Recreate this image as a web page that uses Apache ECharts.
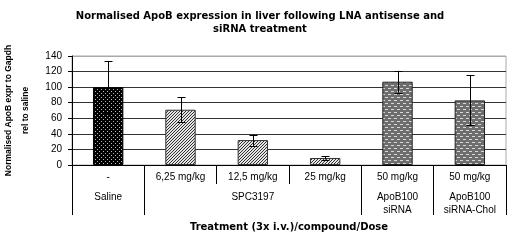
<!DOCTYPE html>
<html>
<head>
<meta charset="utf-8">
<script src="https://cdn.jsdelivr.net/npm/echarts@6/dist/echarts.min.js"></script>
<style>
  html, body { margin: 0; padding: 0; background: #fff; }
  #chart { width: 520px; height: 250px; }
</style>
</head>
<body>
<div id="chart"></div>
<script>
// doses (first table row) and treatment groups (second row)
var doses = ['-', '6,25 mg/kg', '12,5 mg/kg', '25 mg/kg', '50 mg/kg', '50 mg/kg'];
var groupNames = ['Saline', 'SPC3197', 'ApoB100\nsiRNA', 'ApoB100\nsiRNA-Chol'];
var groupSpans = [1, 3, 1, 1];
var groupOfBar = [0, 1, 1, 1, 2, 3];

var means = [100, 71, 32, 9, 107, 83];
var errors = [33, 16, 7, 2, 14, 32];

var yTicks = [0, 20, 40, 60, 80, 100, 120, 140];

var dom = document.getElementById('chart');
var chart = echarts.init(dom, null, { renderer: 'canvas' });

// fill patterns, Excel style
function makePattern(w, h, draw) {
  var c = document.createElement('canvas');
  c.width = w; c.height = h;
  draw(c.getContext('2d'));
  return { image: c, repeat: 'repeat' };
}
var dotted = makePattern(4, 4, function (g) {
  g.fillStyle = '#000'; g.fillRect(0, 0, 4, 4);
  g.fillStyle = '#bbb'; g.fillRect(1, 1, 1, 1); g.fillRect(3, 3, 1, 1);
});
var hatched = makePattern(3, 3, function (g) {
  g.fillStyle = '#e4e4e4'; g.fillRect(0, 0, 3, 3);
  g.fillStyle = '#333';
  g.fillRect(2, 0, 1, 1); g.fillRect(1, 1, 1, 1); g.fillRect(0, 2, 1, 1);
});
var bricks = makePattern(6, 6, function (g) {
  g.fillStyle = '#6e6e6e'; g.fillRect(0, 0, 6, 6);
  g.fillStyle = '#d8d8d8';
  g.fillRect(1, 1, 3, 1); g.fillRect(4, 4, 2, 1); g.fillRect(0, 4, 1, 1);
});
var groupFill = [dotted, hatched, bricks, bricks];
var groupBorder = ['#000', '#333', '#222', '#222'];

// group boundaries and label positions on the 0..6 scale
var bounds = [0];
var mids = [];
groupSpans.forEach(function (s, i) {
  mids.push(bounds[i] + s / 2);
  bounds.push(bounds[i] + s);
});

var barData = means.map(function (v, i) {
  var g = groupOfBar[i];
  return { value: v, itemStyle: { color: groupFill[g], borderColor: groupBorder[g], borderWidth: 1 } };
});
var errData = means.map(function (v, i) {
  return [i, v - errors[i], v + errors[i]];
});

var option = {
  animation: false,
  title: {
    text: 'Normalised ApoB expression in liver following LNA antisense and\nsiRNA treatment',
    left: 255,
    textAlign: 'center',
    top: 5,
    textStyle: { fontFamily: 'DejaVu Sans', fontSize: 10, fontWeight: 'bold', color: '#000', lineHeight: 13 }
  },
  grid: {
    left: 72, right: 14, top: 56, bottom: 85,
    outerBoundsMode: 'none', containLabel: false,
    show: true, borderColor: '#aaa', borderWidth: 1
  },
  xAxis: [
    {
      type: 'category',
      data: doses,
      axisLine: { show: true, lineStyle: { color: '#000' } },
      axisTick: { show: true, interval: 0, length: 19, lineStyle: { color: '#000' } },
      axisLabel: { interval: 0, margin: 7, fontFamily: 'Liberation Sans', fontSize: 10, color: '#000' }
    },
    {
      type: 'value',
      min: 0,
      max: doses.length,
      position: 'bottom',
      name: 'Treatment (3x i.v.)/compound/Dose',
      nameLocation: 'middle',
      nameGap: 57,
      nameTextStyle: { fontFamily: 'DejaVu Sans', fontSize: 10, fontWeight: 'bold', color: '#000' },
      axisLine: { show: false },
      splitLine: { show: false },
      axisTick: { show: true, length: 50, customValues: bounds, lineStyle: { color: '#000' } },
      axisLabel: {
        margin: 26,
        customValues: mids,
        fontFamily: 'Liberation Sans', fontSize: 10, color: '#000', lineHeight: 13,
        formatter: function (v) {
          var k = mids.indexOf(v);
          return k >= 0 ? groupNames[k] : '';
        }
      }
    }
  ],
  yAxis: {
    type: 'value',
    min: yTicks[0],
    max: yTicks[yTicks.length - 1],
    interval: 20,
    name: 'Normalised ApoB expr to Gapdh\nrel to saline',
    nameLocation: 'middle',
    nameRotate: 90,
    nameGap: 25,
    nameTextStyle: { fontFamily: 'Liberation Sans', fontSize: 8.5, fontWeight: 'bold', color: '#000', lineHeight: 17 },
    axisLine: { show: true, lineStyle: { color: '#000' } },
    axisTick: { show: true, length: 4, lineStyle: { color: '#000' } },
    axisLabel: { margin: 10, fontFamily: 'Liberation Sans', fontSize: 10, color: '#000' },
    splitLine: { show: true, lineStyle: { color: ['#333', '#333', '#333', '#333', '#333', '#333', '#333', '#aaa'], width: 1 } }
  },
  series: [
    {
      type: 'bar',
      data: barData,
      barWidth: '42%',
      xAxisIndex: 0
    },
    {
      type: 'custom',
      xAxisIndex: 0,
      data: errData,
      encode: { x: 0, y: [1, 2] },
      z: 10,
      renderItem: function (params, api) {
        var lo = api.coord([api.value(0), api.value(1)]);
        var hi = api.coord([api.value(0), api.value(2)]);
        var x = Math.round(lo[0]) + 0.5;
        var cap = 4;
        var st = { stroke: '#000', lineWidth: 1 };
        return {
          type: 'group',
          children: [
            { type: 'line', shape: { x1: x, y1: lo[1], x2: x, y2: hi[1] }, style: st },
            { type: 'line', shape: { x1: x - cap, y1: Math.round(hi[1]) + 0.5, x2: x + cap, y2: Math.round(hi[1]) + 0.5 }, style: st },
            { type: 'line', shape: { x1: x - cap, y1: Math.round(lo[1]) + 0.5, x2: x + cap, y2: Math.round(lo[1]) + 0.5 }, style: st }
          ]
        };
      }
    }
  ]
};

chart.setOption(option);
window.addEventListener('resize', chart.resize);
</script>
</body>
</html>
